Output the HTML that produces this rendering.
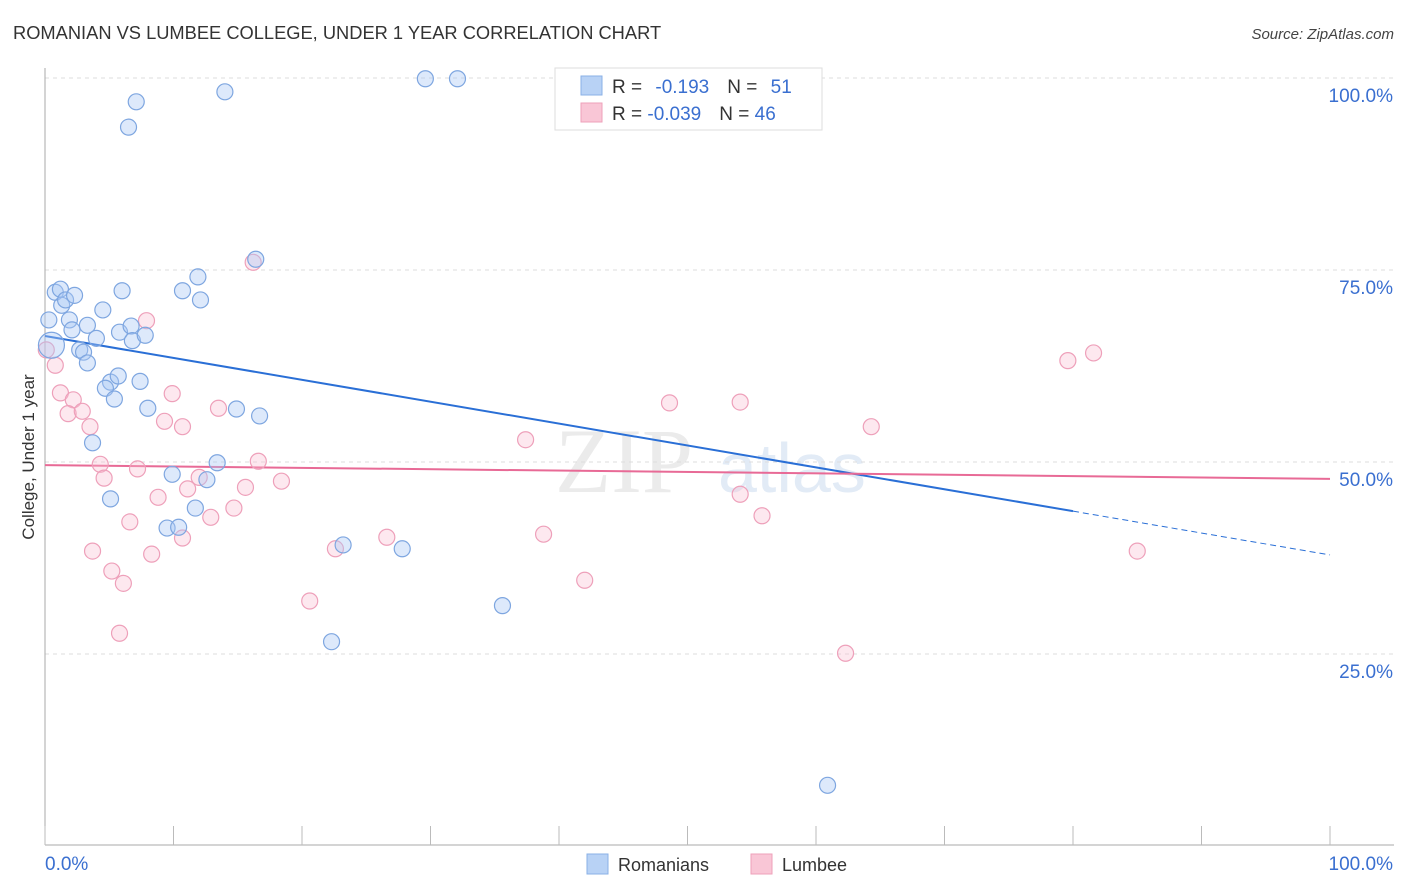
<!DOCTYPE html>
<html><head><meta charset="utf-8"><style>
body{margin:0;background:#fff;font-family:"Liberation Sans",sans-serif}
svg{display:block}
</style></head><body>
<svg id="chart" width="1406" height="892" xmlns="http://www.w3.org/2000/svg" font-family="Liberation Sans, sans-serif">
<text x="13" y="39" font-size="18.3" fill="#333">ROMANIAN VS LUMBEE COLLEGE, UNDER 1 YEAR CORRELATION CHART</text>
<text x="1394" y="39" font-size="15" fill="#444" text-anchor="end" font-style="italic">Source: ZipAtlas.com</text>
<text x="555" y="492" font-size="92" fill="#ebebeb" font-family="Liberation Serif, serif">ZIP</text>
<text x="718" y="492" font-size="70" fill="#e2ebf6">atlas</text>
<g id="grid"></g>
<g id="axes"></g>
<g id="lines"></g>
<g id="pts"></g>
<text transform="translate(34,457) rotate(-90)" font-size="17" fill="#333" text-anchor="middle">College, Under 1 year</text>
<g>
<rect x="555" y="68" width="267" height="62" fill="#fff" stroke="#ddd"/>
<rect x="581" y="76" width="21" height="19" fill="#b8d2f5" stroke="#8ab0e6"/>
<rect x="581" y="103" width="21" height="19" fill="#f9c6d6" stroke="#eea0ba"/>
<text x="612" y="93" font-size="19" fill="#333">R = <tspan fill="#3a6fd0" dx="8">-0.193</tspan><tspan fill="#333" dx="18">N = </tspan><tspan fill="#3a6fd0" dx="8">51</tspan></text>
<text x="612" y="120" font-size="19" fill="#333">R = <tspan fill="#3a6fd0">-0.039</tspan><tspan fill="#333" dx="18">N = </tspan><tspan fill="#3a6fd0">46</tspan></text>
</g>
<g>
<rect x="587" y="854" width="21" height="20" fill="#b8d2f5" stroke="#8ab0e6"/>
<text x="618" y="871" font-size="18" fill="#333">Romanians</text>
<rect x="751" y="854" width="21" height="20" fill="#f9c6d6" stroke="#eea0ba"/>
<text x="782" y="871" font-size="18" fill="#333">Lumbee</text>
</g>
</svg>
<script>
const yTicks=[100,75,50,25];
const yTickLabels=["100.0%","75.0%","50.0%","25.0%"];
const xTicks=[0,10,20,30,40,50,60,70,80,90,100];
const romX=[0.5,0.8,1.2,1.3,1.6,2.3,1.9,2.1,3.3,4.5,4.0,2.7,3.0,3.3,6.0,5.8,6.7,6.8,7.8,5.1,4.7,5.7,5.4,7.4,8.0,3.7,5.1,6.5,7.1,14.0,10.7,11.9,12.1,16.4,14.9,16.7,9.9,13.4,12.6,11.7,9.5,10.4,23.2,27.8,22.3,35.6,60.9,29.6,32.1,54.1,0.3];
const romY=[65.2,72.1,72.5,70.4,71.1,71.7,68.5,67.2,67.8,69.8,66.1,64.6,64.3,62.9,72.3,66.9,67.7,65.8,66.5,60.4,59.6,61.2,58.2,60.5,57.0,52.5,45.2,93.6,96.9,98.2,72.3,74.1,71.1,76.4,56.9,56.0,48.4,49.9,47.7,44.0,41.4,41.5,39.2,38.7,26.6,31.3,7.9,99.9,99.9,99.9,68.5];
const lumX=[0.1,0.8,1.2,2.2,1.8,2.9,3.5,4.3,4.6,7.2,6.6,3.7,5.2,6.1,5.8,7.9,9.9,9.3,10.7,8.8,11.1,12.0,12.9,10.7,8.3,13.5,14.7,15.6,16.6,18.4,16.2,20.6,22.6,26.6,37.4,38.8,42.0,48.6,54.1,54.1,55.8,64.3,62.3,79.6,81.6,85.0];
const lumY=[64.6,62.6,59.0,58.1,56.3,56.6,54.6,49.7,47.9,49.1,42.2,38.4,35.8,34.2,27.7,68.4,58.9,55.3,54.6,45.4,46.5,48.0,42.8,40.1,38.0,57.0,44.0,46.7,50.1,47.5,76.0,31.9,38.7,40.2,52.9,40.6,34.6,57.7,57.8,45.8,43.0,54.6,25.1,63.2,64.2,38.4];
const romTrend=[66.4,37.9];
const romSolidEnd=80;
const lumTrend=[49.6,47.8];
const NS="http://www.w3.org/2000/svg";
const X=v=>45+v*12.85, Y=v=>846-v*7.68;
function mk(tag,attrs,parent){const e=document.createElementNS(NS,tag);for(const k in attrs)e.setAttribute(k,attrs[k]);parent.appendChild(e);return e;}
const grid=document.getElementById('grid'),axes=document.getElementById('axes'),lines=document.getElementById('lines'),pts=document.getElementById('pts');
yTicks.forEach((t,i)=>{
 const l=mk('line',{x1:45,x2:1394,y1:Y(t),y2:Y(t),stroke:'#ddd','stroke-dasharray':'4 4'},grid);
 
 
 const tx=mk('text',{x:1393,y:Y(t)+24,'font-size':19,fill:'#3a6fd0','text-anchor':'end'},grid);
 tx.textContent=yTickLabels[i];
 
 
});
mk('line',{x1:45,x2:45,y1:68,y2:845,stroke:'#aaa'},axes);
mk('line',{x1:45,x2:1394,y1:845,y2:845,stroke:'#aaa'},axes);
xTicks.forEach(t=>{const l=mk('line',{x1:X(t),x2:X(t),y1:826,y2:845,stroke:'#bbb'},axes);
 
 });
let a=mk('text',{x:45,y:870,'font-size':19,fill:'#3a6fd0'},axes);a.textContent='0.0%';


a=mk('text',{x:1393,y:870,'font-size':19,fill:'#3a6fd0','text-anchor':'end'},axes);a.textContent='100.0%';


function drawPts(xs,ys,fill,stroke,name){xs.forEach((x,i)=>{const c=mk('circle',{cx:X(x),cy:Y(ys[i]),r:(i===0&&name==='romanian-point')?13:8,fill:fill,stroke:stroke,'stroke-width':1.2},pts);
 
 });}
drawPts(lumX,lumY,'rgba(249,190,210,0.35)','#eea0ba','lumbee-point');
drawPts(romX,romY,'rgba(170,200,245,0.4)','#7ea6e0','romanian-point');
const ry=x=>romTrend[0]+(romTrend[1]-romTrend[0])*x/100;
let l=mk('line',{x1:X(0),y1:Y(ry(0)),x2:X(romSolidEnd),y2:Y(ry(romSolidEnd)),stroke:'#2a6fd6','stroke-width':2},lines);


l=mk('line',{x1:X(romSolidEnd),y1:Y(ry(romSolidEnd)),x2:X(100),y2:Y(ry(100)),stroke:'#2a6fd6','stroke-width':1,'stroke-dasharray':'6 4'},lines);


l=mk('line',{x1:X(0),y1:Y(lumTrend[0]),x2:X(100),y2:Y(lumTrend[1]),stroke:'#e86a96','stroke-width':2},lines);


</script>
</body></html>
